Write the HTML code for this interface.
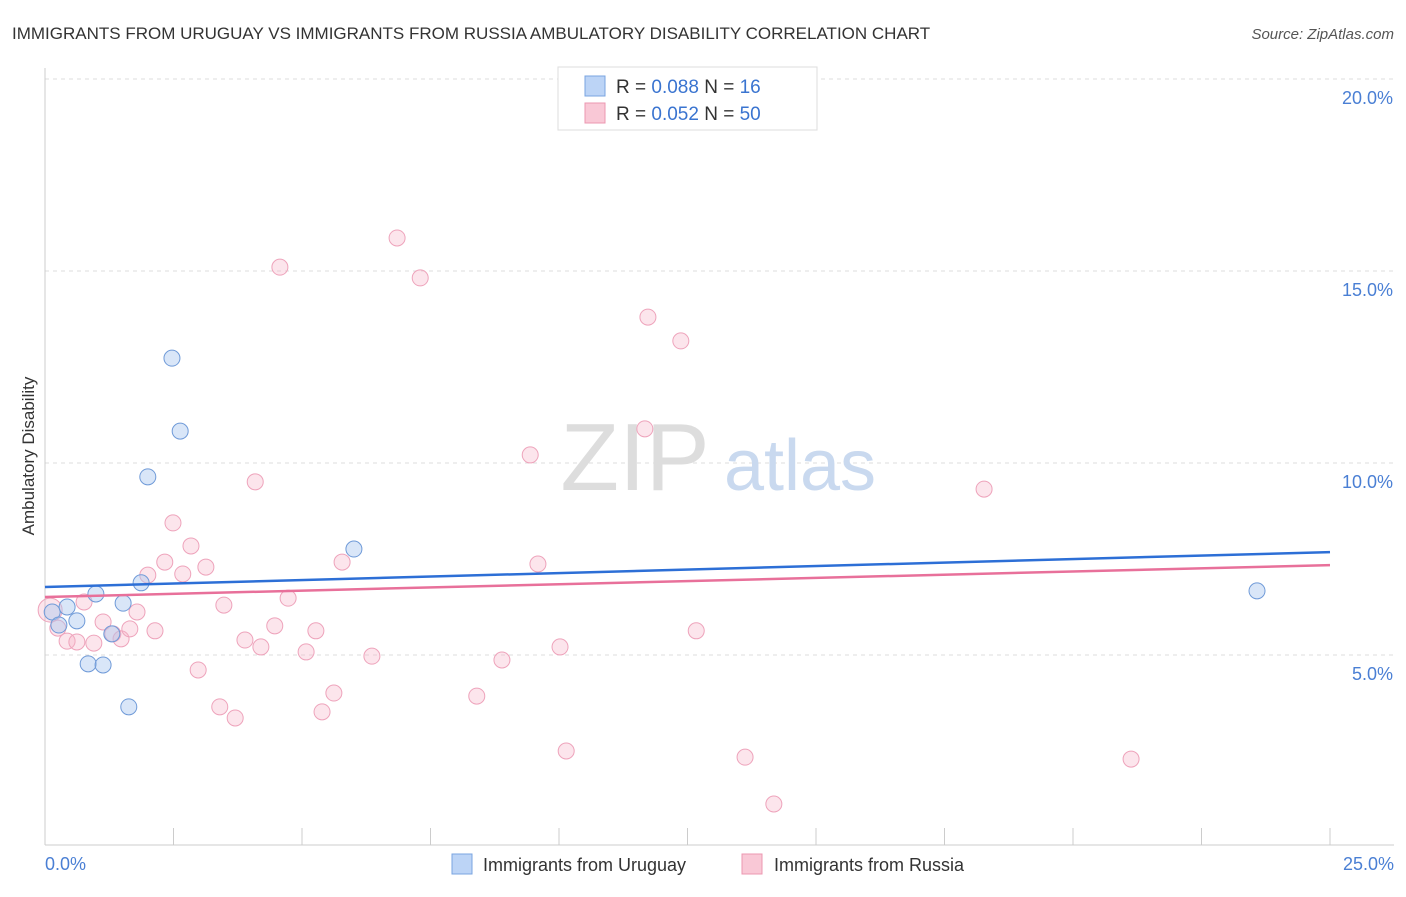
<!DOCTYPE html>
<html><head><meta charset="utf-8"><style>
body{margin:0;background:#fff;font-family:"Liberation Sans",sans-serif;}
svg text{font-family:"Liberation Sans",sans-serif;}
</style></head><body>
<svg id="chart" width="1406" height="892" viewBox="0 0 1406 892">
<text x="12" y="39" font-size="17" fill="#333">IMMIGRANTS FROM URUGUAY VS IMMIGRANTS FROM RUSSIA AMBULATORY DISABILITY CORRELATION CHART</text>
<text x="1394" y="39" font-size="15" fill="#555" text-anchor="end" font-style="italic">Source: ZipAtlas.com</text>
<g id="grid"></g>
<g id="watermark">
<text x="635" y="490" font-size="96" fill="#ddd" text-anchor="middle" font-family="Liberation Serif,serif">ZIP</text>
<text x="800" y="490" font-size="72" fill="#c9d9ef" text-anchor="middle">atlas</text>
</g>
<line x1="45" y1="68" x2="45" y2="845" stroke="#ccc"/>
<line x1="45" y1="845" x2="1394" y2="845" stroke="#ccc"/>
<g id="xticks"></g>
<g id="yticks"></g>
<text x="34" y="456" font-size="17" fill="#333" text-anchor="middle" transform="rotate(-90 34 456)">Ambulatory Disability</text>
<text x="45" y="870" font-size="18" fill="#4a7fd4">0.0%</text>
<text x="1394" y="870" font-size="18" fill="#4a7fd4" text-anchor="end">25.0%</text>
<g id="points"></g>
<g id="trends"></g>
<g>
<rect x="558" y="67" width="259" height="63" fill="#fff" stroke="#ddd"/>
<rect x="585" y="76" width="20" height="20" fill="#bcd4f6" stroke="#7aa4e0"/>
<rect x="585" y="103" width="20" height="20" fill="#f9c8d6" stroke="#ec97b0"/>
<text x="616" y="93" font-size="19" fill="#333">R = <tspan fill="#3a74d0">0.088</tspan>   N =  <tspan fill="#3a74d0">16</tspan></text>
<text x="616" y="120" font-size="19" fill="#333">R = <tspan fill="#3a74d0">0.052</tspan>   N = <tspan fill="#3a74d0">50</tspan></text>
</g>
<g>
<rect x="452" y="854" width="20" height="20" fill="#bcd4f6" stroke="#7aa4e0"/>
<text x="483" y="871" font-size="18" fill="#333">Immigrants from Uruguay</text>
<rect x="742" y="854" width="20" height="20" fill="#f9c8d6" stroke="#ec97b0"/>
<text x="774" y="871" font-size="18" fill="#333">Immigrants from Russia</text>
</g>
</svg>
<script>
const yTicks=[5,10,15,20];
const xTickCount=10;
const uruX=[0.14,0.43,0.27,0.62,0.99,0.84,1.13,1.30,1.52,1.63,1.87,2.00,2.47,2.63,6.01,23.58];
const uruY=[6.12,6.25,5.78,5.89,6.59,4.77,4.74,5.55,6.35,3.65,6.88,9.64,12.73,10.83,7.76,6.67];
const rusX=[0.1,0.25,0.43,0.62,0.76,0.95,1.13,1.32,1.48,1.65,1.79,2.00,2.14,2.33,2.49,2.68,2.84,2.98,3.13,3.40,3.48,3.70,3.89,4.09,4.20,4.47,4.57,4.73,5.08,5.27,5.39,5.62,5.78,6.36,6.85,7.30,8.40,8.89,9.44,9.59,10.02,10.14,11.67,11.73,12.37,12.67,13.62,14.18,18.27,21.13];
const rusY=[6.17,5.70,5.36,5.34,6.38,5.31,5.86,5.55,5.42,5.68,6.12,7.08,5.63,7.42,8.44,7.11,7.84,4.61,7.29,3.65,6.30,3.36,5.39,9.51,5.21,5.76,15.10,6.48,5.08,5.63,3.52,4.01,7.42,4.97,15.86,14.82,3.93,4.87,10.21,7.37,5.21,2.50,10.89,13.80,13.18,5.63,2.34,1.12,9.32,2.29];
const uruTrend=[6.77,7.68];
const rusTrend=[6.51,7.34];
const xS=v=>45+v*(1285/25);
const yS=v=>847-v*38.4;
const NS="http://www.w3.org/2000/svg";
function mk(tag,attrs,parent){const e=document.createElementNS(NS,tag);for(const k in attrs)e.setAttribute(k,attrs[k]);parent.appendChild(e);return e;}
const grid=document.getElementById('grid'),yt=document.getElementById('yticks'),xt=document.getElementById('xticks');
yTicks.forEach(t=>{
 const l=mk('line',{x1:45,x2:1394,y1:yS(t),y2:yS(t),stroke:'#ddd','stroke-dasharray':'4,4'},grid);
 
 
 const tx=mk('text',{x:1393,y:yS(t)+25,'font-size':18,fill:'#4a7fd4','text-anchor':'end'},yt);
 tx.textContent=t.toFixed(1)+'%';
 
 
});
for(let i=1;i<=xTickCount;i++){
 const l=mk('line',{x1:xS(i*2.5),x2:xS(i*2.5),y1:828,y2:845,stroke:'#ccc'},xt);
 
 
}
const pts=document.getElementById('points');
rusX.forEach((x,i)=>{
 const c=mk('circle',{cx:xS(x),cy:yS(rusY[i]),r:i===0?12:8,fill:'rgba(246,180,200,0.35)',stroke:'#eea3bb','stroke-width':1},pts);
 
 
});
uruX.forEach((x,i)=>{
 const c=mk('circle',{cx:xS(x),cy:yS(uruY[i]),r:8,fill:'rgba(170,200,240,0.45)',stroke:'#6f9ad8','stroke-width':1},pts);
 
 
});
const tr=document.getElementById('trends');
const t1=mk('line',{x1:xS(0),x2:xS(25),y1:yS(uruTrend[0]),y2:yS(uruTrend[1]),stroke:'#2d6fd6','stroke-width':2.5},tr);


const t2=mk('line',{x1:xS(0),x2:xS(25),y1:yS(rusTrend[0]),y2:yS(rusTrend[1]),stroke:'#e8709a','stroke-width':2.5},tr);


</script>
</body></html>
